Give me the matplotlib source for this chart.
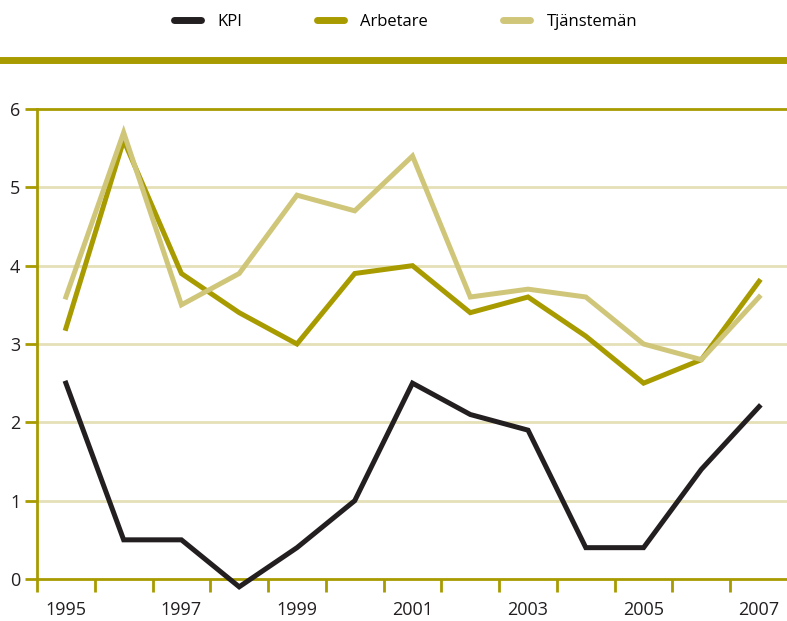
import matplotlib
matplotlib.use("Agg")
import matplotlib.pyplot as plt
from matplotlib.lines import Line2D

years = [1995, 1996, 1997, 1998, 1999, 2000, 2001, 2002, 2003, 2004, 2005, 2006, 2007]
kpi = [2.5, 0.5, 0.5, -0.1, 0.4, 1.0, 2.5, 2.1, 1.9, 0.4, 0.4, 1.4, 2.2]
arbetare = [3.2, 5.6, 3.9, 3.4, 3.0, 3.9, 4.0, 3.4, 3.6, 3.1, 2.5, 2.8, 3.8]
tjansteman = [3.6, 5.7, 3.5, 3.9, 4.9, 4.7, 5.4, 3.6, 3.7, 3.6, 3.0, 2.8, 3.6]

C_KPI = "#231f20"
C_ARB = "#a89b00"
C_TJA = "#d0c67a"
C_GRID = "#e6e0b8"

plt.rcParams["font.family"] = ["Open Sans", "DejaVu Sans"]

fig = plt.figure(figsize=(7.87, 6.21), dpi=100)
ax = fig.add_axes([37 / 787, 42 / 621, 751 / 787, 470 / 621])

xs = list(range(len(years)))
lw = 3.6
ax.plot(xs, arbetare, color=C_ARB, lw=lw, label="Arbetare", clip_on=False,
        solid_joinstyle="miter", zorder=3)
ax.plot(xs, tjansteman, color=C_TJA, lw=lw, label="Tjänstemän", clip_on=False,
        solid_joinstyle="miter", zorder=4)
ax.plot(xs, kpi, color=C_KPI, lw=lw, label="KPI", clip_on=False,
        solid_joinstyle="miter", zorder=5)

ax.set_xlim(-0.5, len(years) - 0.5)
ax.set_ylim(0, 6)

# stödlinjer
for y in range(1, 6):
    ax.axhline(y, color=C_GRID, lw=2, zorder=1)
ax.axhline(6, color=C_ARB, lw=2, zorder=1, clip_on=False)

for s in ["top", "right"]:
    ax.spines[s].set_visible(False)
for s in ["left", "bottom"]:
    ax.spines[s].set_color(C_ARB)
    ax.spines[s].set_linewidth(2)

ax.set_yticks(range(0, 7))
ax.set_yticklabels([str(v) for v in range(0, 7)])
ax.set_xticks([i - 0.5 for i in range(len(years))])
ax.set_xticklabels([])
ax.set_xticks(xs[::2], minor=True)
ax.set_xticklabels([str(y) for y in years[::2]], minor=True)
ax.tick_params(axis="x", which="major", direction="out", length=9, width=2,
               color=C_ARB)
ax.tick_params(axis="x", which="minor", length=0, pad=16, labelsize=13,
               labelcolor="#231f20")
ax.tick_params(axis="y", direction="out", length=9, width=2, color=C_ARB,
               labelsize=13, labelcolor="#231f20", pad=3)

# olivfärgat band under legenden
fig.add_artist(Line2D([0, 1], [1 - 60 / 621, 1 - 60 / 621], color=C_ARB, lw=5,
                      transform=fig.transFigure))

handles = [
    Line2D([], [], color=C_KPI, lw=5, solid_capstyle="round"),
    Line2D([], [], color=C_ARB, lw=5, solid_capstyle="round"),
    Line2D([], [], color=C_TJA, lw=5, solid_capstyle="round"),
]
fig.legend(handles, ["KPI", "Arbetare", "Tjänstemän"], loc="center",
           bbox_to_anchor=(0.5 + 12 / 787, 1 - 22 / 621), ncol=3, frameon=False,
           fontsize=12, handlelength=1.6, columnspacing=4.5, handletextpad=1.0)

fig.savefig("out.png", dpi=100)
